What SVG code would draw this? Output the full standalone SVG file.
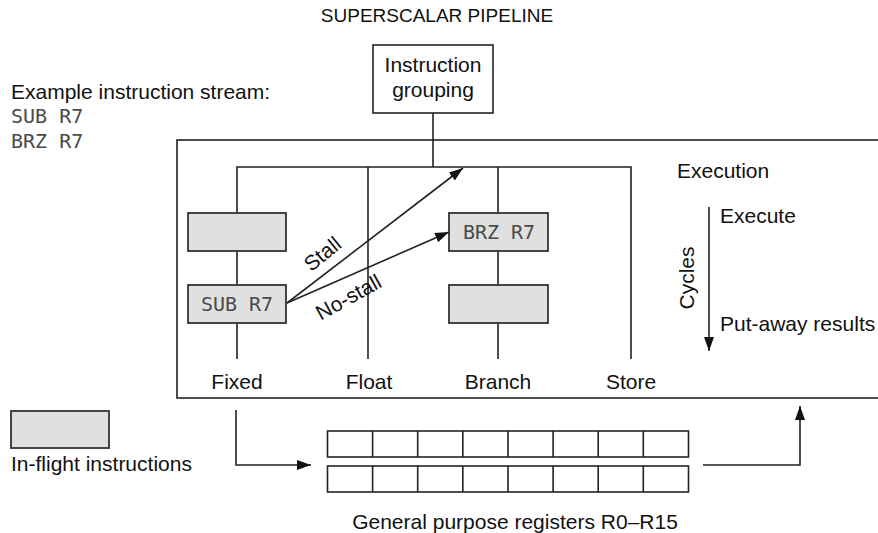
<svg xmlns="http://www.w3.org/2000/svg" width="878" height="533" viewBox="0 0 878 533">
<defs>
<style>
text{font-family:"Liberation Sans",Arial,sans-serif;font-size:21px;fill:#111}
.mono{font-family:"DejaVu Sans Mono","Liberation Mono",monospace;font-size:20px;fill:#4a4a4a}
.mid{text-anchor:middle}
.ln{stroke:#222;stroke-width:1.6;fill:none}
.box{fill:#fff;stroke:#222;stroke-width:1.6}
.flight{fill:#e0e0e0;stroke:#333;stroke-width:1.8}
.cell{fill:#fff;stroke:#222;stroke-width:1.6}
</style>
<marker id="ah" viewBox="0 0 14 10" refX="14" refY="5" markerWidth="14" markerHeight="10" markerUnits="userSpaceOnUse" orient="auto">
<path d="M0,0 L14,5 L0,10 Z" fill="#111"/>
</marker>
</defs>
<rect width="878" height="533" fill="#fff"/>
<text id="title" x="437" y="22" class="mid" style="font-size:19px">SUPERSCALAR PIPELINE</text>
<g id="stream">
<text x="11" y="99">Example instruction stream:</text>
<text x="11" y="122.5" class="mono">SUB R7</text>
<text x="11" y="148" class="mono">BRZ R7</text>
</g>
<g id="execution-unit">
<rect x="177" y="140" width="720" height="258" class="box"/>
<text x="677" y="178">Execution</text>
<text x="720" y="223">Execute</text>
<text x="720" y="331">Put-away results</text>
<text transform="translate(694,278) rotate(-90)" class="mid">Cycles</text>
<text x="237" y="389" class="mid">Fixed</text>
<text x="369" y="389" class="mid">Float</text>
<text x="498" y="389" class="mid">Branch</text>
<text x="631" y="389" class="mid">Store</text>
</g>
<g id="connectors">
<line x1="433" y1="113" x2="433" y2="167" class="ln"/>
<path d="M237,359 V167 H631 V359" class="ln"/>
<line x1="368" y1="167" x2="368" y2="359" class="ln"/>
<line x1="498" y1="167" x2="498" y2="359" class="ln"/>
<line x1="709" y1="207" x2="709" y2="351" class="ln" marker-end="url(#ah)"/>
<path d="M236,410 V465 H311" class="ln" marker-end="url(#ah)"/>
<path d="M703,465 H800 V406" class="ln" marker-end="url(#ah)"/>
</g>
<g id="grouping">
<rect x="373" y="45" width="120" height="68" class="box"/>
<text x="433" y="72" class="mid">Instruction</text>
<text x="433" y="97" class="mid">grouping</text>
</g>
<g id="fixed-1"><rect x="188" y="213" width="98" height="38" class="flight"/></g>
<g id="fixed-sub">
<rect x="188" y="285" width="98" height="38" class="flight"/>
<text x="237" y="311" class="mono mid">SUB R7</text>
</g>
<g id="branch-brz">
<rect x="449" y="213" width="99" height="38" class="flight"/>
<text x="499" y="239" class="mono mid">BRZ R7</text>
</g>
<g id="branch-2"><rect x="449" y="285" width="99" height="38" class="flight"/></g>
<g id="stall-arrows">
<line x1="287" y1="303" x2="463" y2="168" class="ln" marker-end="url(#ah)"/>
<line x1="287" y1="303" x2="449" y2="232" class="ln" marker-end="url(#ah)"/>
<text transform="translate(327,259.5) rotate(-39)" class="mid">Stall</text>
<text transform="translate(352,303.5) rotate(-29)" class="mid">No-stall</text>
</g>
<g id="legend">
<rect x="11" y="411" width="98" height="37" class="flight"/>
<text x="11" y="471">In-flight instructions</text>
</g>
<g id="registers">
<rect x="327.5" y="431" width="361" height="26" class="cell"/>
<rect x="327.5" y="466" width="361" height="26" class="cell"/>
<path d="M372.6,431 V457 M417.7,431 V457 M462.8,431 V457 M508,431 V457 M553.1,431 V457 M598.2,431 V457 M643.3,431 V457 M372.6,466 V492 M417.7,466 V492 M462.8,466 V492 M508,466 V492 M553.1,466 V492 M598.2,466 V492 M643.3,466 V492" class="ln"/>
<text x="515" y="529" class="mid">General purpose registers R0–R15</text>
</g>
</svg>
